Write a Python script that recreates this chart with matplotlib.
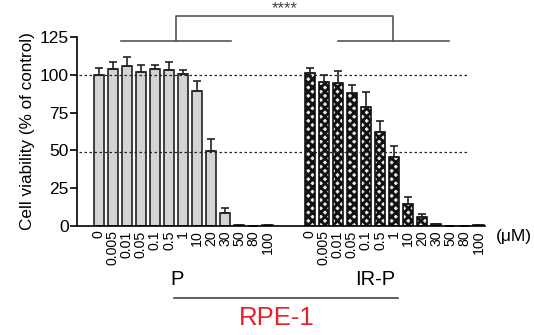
import matplotlib.pyplot as plt
import numpy as np

plt.rcParams['font.family'] = ['Liberation Sans', 'DejaVu Sans']
plt.rcParams['hatch.linewidth'] = 2.0

conc = ['0', '0.005', '0.01', '0.05', '0.1', '0.5', '1', '10', '20', '30', '50', '80', '100']

# P
p_mean = [100, 103.8, 105.5, 101.5, 103.8, 102.9, 100.4, 89.4, 49.8, 8.6, 0.5, 0, 0.5]
p_err = [4.4, 4.9, 6.4, 4.6, 2.9, 5.5, 2.9, 6.2, 7.5, 3.5, 0, 0, 0]

# IR-P
irp_mean = [101.3, 95.5, 94.2, 87.8, 79.0, 62.0, 45.4, 14.9, 6.0, 1.5, 0, 0, 0.5]
irp_err = [3.0, 4.5, 8.0, 5.3, 9.3, 7.1, 7.3, 4.2, 2.0, 0, 0, 0, 0]

x_p = np.arange(13)
x_irp = np.arange(13) + 15

fig = plt.figure(figsize=(5.34, 3.35), dpi=100)
ax = fig.add_axes([0.144, 0.325, 0.764, 0.565])

ax.bar(x_p, p_mean, width=0.72, color='#d4d4d4', edgecolor='#222222', linewidth=1.2,
       yerr=[np.zeros(13), p_err], error_kw=dict(ecolor='#222222', elinewidth=1.2, capsize=3, capthick=1.2))
ax.bar(x_irp, irp_mean, width=0.72, color='#e6e6e6', edgecolor='#111111', linewidth=0, hatch='xxxx')
ax.bar(x_irp, irp_mean, width=0.72, color='none', edgecolor='#111111', linewidth=1.2,
       yerr=[np.zeros(13), irp_err], error_kw=dict(ecolor='#222222', elinewidth=1.2, capsize=3, capthick=1.2))

ax.plot([-1.4, 26.3], [100, 100], ls=(0, (2, 2)), color='#222222', lw=0.9)
ax.plot([-1.4, 26.3], [49, 49], ls=(0, (2, 2)), color='#222222', lw=0.9)

ax.set_xlim(-1.55, 27.45)
ax.set_ylim(0, 125)
ax.set_yticks([0, 25, 50, 75, 100, 125])
ax.tick_params(axis='y', labelsize=12.5, length=5, width=1.2, pad=1)
ax.set_ylabel('Cell viability (% of control)', fontsize=12.3, labelpad=3)

ax.set_xticks(np.concatenate([x_p, x_irp]))
ax.set_xticklabels(conc + conc, rotation=90, fontsize=10.2)
ax.tick_params(axis='x', length=0, pad=3)
ax.spines['top'].set_visible(False)
ax.spines['right'].set_visible(False)
ax.spines['left'].set_linewidth(1.2)
ax.spines['bottom'].set_linewidth(1.2)

# significance brackets
bc = '#555555'
ax.plot([1.6, 9.4], [122.3, 122.3], color=bc, lw=1.2, clip_on=False)
ax.plot([17.0, 24.9], [122.3, 122.3], color=bc, lw=1.2, clip_on=False)
ax.plot([5.5, 5.5, 20.9, 20.9], [122.3, 138.5, 138.5, 122.3], color=bc, lw=1.2, clip_on=False)
ax.text(13.2, 139, '****', ha='center', va='bottom', fontsize=12, color='#444444', clip_on=False)

fig.text(0.928, 0.295, '(\u03bcM)', fontsize=12.5, ha='left', va='center')
fig.text(0.332, 0.165, 'P', fontsize=14.5, ha='center', va='center')
fig.text(0.702, 0.165, 'IR-P', fontsize=14.5, ha='center', va='center')
fig.add_artist(plt.Line2D([0.326, 0.745], [0.11, 0.11], color='#444444', lw=1.2))
fig.text(0.519, 0.052, 'RPE-1', fontsize=18.5, color='#e8202a', ha='center', va='center')

fig.savefig('out.png', dpi=100)
